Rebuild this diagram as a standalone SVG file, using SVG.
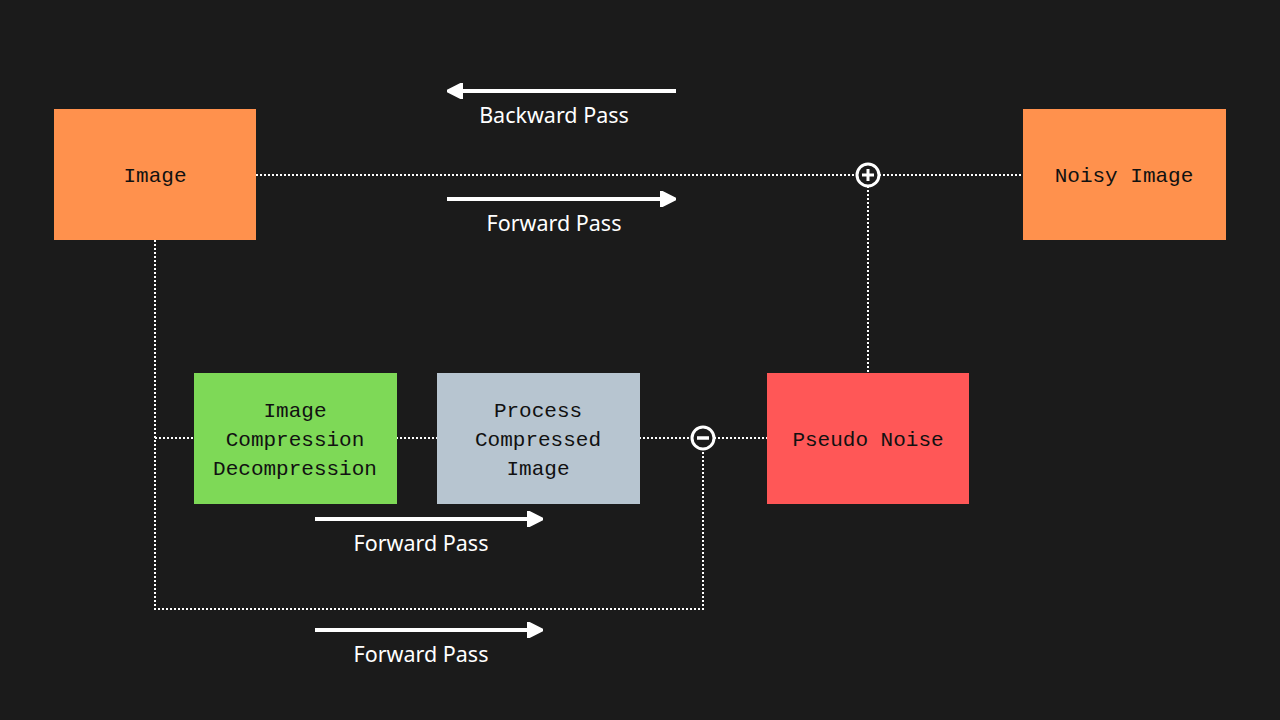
<svg xmlns="http://www.w3.org/2000/svg" width="1280" height="720" viewBox="0 0 1280 720">
<style>
.node text{font-family:"Liberation Mono","DejaVu Sans Mono",monospace;font-size:21px;fill:#111;text-anchor:middle;dominant-baseline:central}
.lbl{font-family:"Noto Sans","Open Sans",sans-serif;font-size:21.5px;fill:#fff;text-anchor:middle}
.dot{stroke:#fff;stroke-width:2;stroke-dasharray:2 2;fill:none}
.arr{stroke:#fff;stroke-width:4;fill:none}
.op{stroke:#fff;stroke-width:3;fill:#1b1b1b}
</style>
<defs>
<marker id="ah" viewBox="0 0 10 10" refX="5" refY="5" markerWidth="4" markerHeight="4" orient="auto" markerUnits="strokeWidth">
<path d="M0,0 L10,5 L0,10 Z" fill="#fff" stroke="#fff" stroke-width="1.5" stroke-linejoin="round"/>
</marker>
</defs>
<rect width="1280" height="720" fill="#1b1b1b"/>
<g id="connectors">
<path class="dot" d="M256,175 H857 M879,175 H1023"/>
<path class="dot" d="M868,186 V373"/>
<path class="dot" d="M155,240 V609 H703 V449"/>
<path class="dot" d="M155,438 H194 M396,438 H437 M639,438 H692 M714,438 H767"/>
<circle class="op" cx="868" cy="175" r="11"/>
<path d="M862,175 H874 M868,169 V181" stroke="#fff" stroke-width="3"/>
<circle class="op" cx="703" cy="438" r="11"/>
<path d="M697,438 H709" stroke="#fff" stroke-width="3.5"/>
<path class="arr" d="M676,91 H455" marker-end="url(#ah)"/>
<path class="arr" d="M447,199 H668" marker-end="url(#ah)"/>
<path class="arr" d="M315,519 H535" marker-end="url(#ah)"/>
<path class="arr" d="M315,630 H535" marker-end="url(#ah)"/>
<text class="lbl" x="554" y="123">Backward Pass</text>
<text class="lbl" x="554" y="231">Forward Pass</text>
<text class="lbl" x="421" y="551">Forward Pass</text>
<text class="lbl" x="421" y="662">Forward Pass</text>
</g>
<g id="image" class="node">
<rect x="54" y="109" width="202" height="131" fill="#ff914d"/>
<text x="155" y="176">Image</text>
</g>
<g id="noisy" class="node">
<rect x="1023" y="109" width="203" height="131" fill="#ff914d"/>
<text x="1124" y="176">Noisy Image</text>
</g>
<g id="compress" class="node">
<rect x="194" y="373" width="203" height="131" fill="#7ed957"/>
<text x="295" y="411">Image</text>
<text x="295" y="440">Compression</text>
<text x="295" y="469">Decompression</text>
</g>
<g id="process" class="node">
<rect x="437" y="373" width="203" height="131" fill="#b7c5d0"/>
<text x="538" y="411">Process</text>
<text x="538" y="440">Compressed</text>
<text x="538" y="469">Image</text>
</g>
<g id="noise" class="node">
<rect x="767" y="373" width="202" height="131" fill="#ff5757"/>
<text x="868" y="440">Pseudo Noise</text>
</g>
</svg>
